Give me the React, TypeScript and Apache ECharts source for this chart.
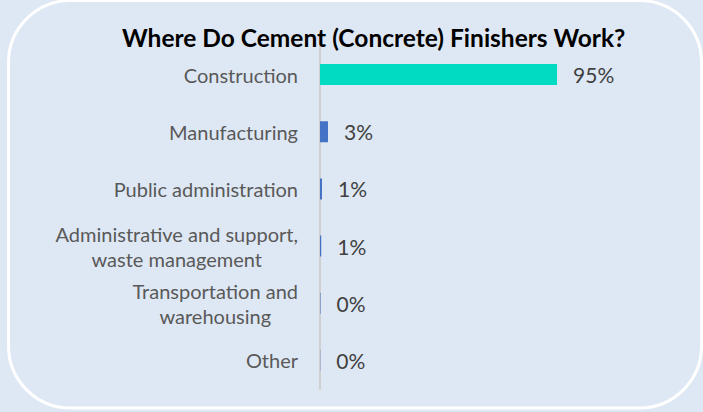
import React, { useEffect, useRef } from "react";
import * as echarts from "echarts";

const TITLE = "Where Do Cement (Concrete) Finishers Work?";
const categories = [
  "Construction",
  "Manufacturing",
  "Public administration",
  "Administrative and support,\nwaste management",
  "Transportation and\nwarehousing",
  "Other",
];
const shares = [95, 3.2, 0.8, 0.5, 0.2, 0.1];
const barColors = ["#00dbc2", "#4472c4", "#4472c4", "#4472c4", "#4472c4", "#4472c4"];

const FONT = "Lato, 'Open Sans', sans-serif";

export default function App() {
  const ref = useRef<HTMLDivElement>(null);
  useEffect(() => {
    if (!ref.current) return;
    const chart = echarts.init(ref.current, undefined, { renderer: "svg" });
    chart.setOption({
      animation: false,
      backgroundColor: "#dee8f4",
      title: {
        text: TITLE,
        left: 117,
        top: 20,
        textStyle: { fontFamily: FONT, fontWeight: "bold", fontSize: 24.5, color: "#000000" },
      },
      graphic: [
        {
          type: "rect",
          shape: { x: 8.5, y: 0.5, width: 693, height: 407.5, r: 62 },
          style: { fill: "none", stroke: "#ffffff", lineWidth: 3 },
          silent: true,
          z: -1,
        },
      ],
      grid: { left: 320, right: 133.5, top: 46, bottom: 23 },
      xAxis: { type: "value", min: 0, max: 100, show: false },
      yAxis: {
        type: "category",
        data: categories,
        inverse: true,
        axisLine: { show: true, lineStyle: { color: "#d0d0d0", width: 2 } },
        axisTick: { show: false },
        axisLabel: {
          margin: 22,
          color: "#595959",
          fontFamily: FONT,
          fontSize: 20,
          lineHeight: 25,
          formatter: (v: string) => v.split("\n").map((l) => `{c|${l}}`).join("\n"),
          rich: {
            c: { align: "center", color: "#595959", fontFamily: FONT, fontSize: 20, lineHeight: 25 },
          },
        },
      },
      series: [
        {
          type: "bar",
          barWidth: 21,
          data: shares.map((v, i) => ({ value: v, itemStyle: { color: barColors[i] } })),
          label: {
            show: true,
            position: "right",
            distance: 16,
            color: "#404040",
            fontFamily: FONT,
            fontSize: 21,
            formatter: (p: any) => `${Math.round(p.value)}%`,
          },
        },
      ],
    });
    return () => chart.dispose();
  }, []);
  return (
    <div
      ref={ref}
      style={{ position: "fixed", left: 0, top: 0, width: 703, height: 412 }}
    />
  );
}
